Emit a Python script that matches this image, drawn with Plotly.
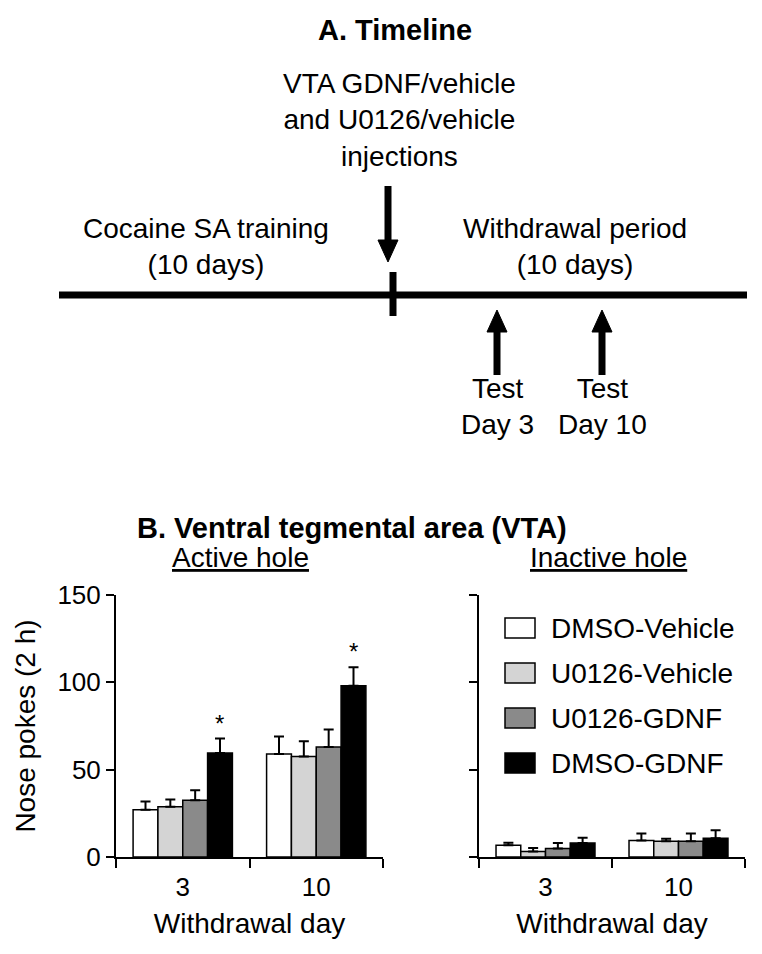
import plotly.graph_objects as go

# ---------------- data ----------------
days = ["3", "10"]
groups = ["DMSO-Vehicle", "U0126-Vehicle", "U0126-GDNF", "DMSO-GDNF"]
colors = ["#ffffff", "#d4d4d4", "#8a8a8a", "#000000"]

active_dmso_vehicle = [27.0, 59.0]
active_u0126_vehicle = [28.7, 57.5]
active_u0126_gdnf = [32.5, 63.0]
active_dmso_gdnf = [59.5, 98.0]
active_sem_dmso_vehicle = [4.8, 10.0]
active_sem_u0126_vehicle = [4.2, 8.8]
active_sem_u0126_gdnf = [5.7, 10.0]
active_sem_dmso_gdnf = [8.3, 10.7]

inactive_dmso_vehicle = [6.7, 9.5]
inactive_u0126_vehicle = [3.2, 9.0]
inactive_u0126_gdnf = [4.8, 9.0]
inactive_dmso_gdnf = [8.0, 10.8]
inactive_sem_dmso_vehicle = [1.4, 3.9]
inactive_sem_u0126_vehicle = [2.0, 1.5]
inactive_sem_u0126_gdnf = [3.2, 4.4]
inactive_sem_dmso_gdnf = [3.0, 4.5]

y_ticks = [0, 50, 100, 150]

active_means = [active_dmso_vehicle, active_u0126_vehicle, active_u0126_gdnf, active_dmso_gdnf]
active_sems = [active_sem_dmso_vehicle, active_sem_u0126_vehicle, active_sem_u0126_gdnf, active_sem_dmso_gdnf]
inactive_means = [inactive_dmso_vehicle, inactive_u0126_vehicle, inactive_u0126_gdnf, inactive_dmso_gdnf]
inactive_sems = [inactive_sem_dmso_vehicle, inactive_sem_u0126_vehicle, inactive_sem_u0126_gdnf, inactive_sem_dmso_gdnf]

# ---------------- layout helpers ----------------
W, H = 762, 954
OFF = 8  # page body margin in the browser
FONT = "Liberation Sans, Arial, Helvetica, sans-serif"


def fx(x):
    return (x - OFF) / W


def fy(y):
    return 1 - (y - OFF) / H


fig = go.Figure()

for i, g in enumerate(groups):
    for means, sems, xa, ya in [(active_means, active_sems, "x", "y"),
                                (inactive_means, inactive_sems, "x2", "y2")]:
        fig.add_trace(go.Bar(
            x=days, y=means[i], name=g, showlegend=False,
            xaxis=xa, yaxis=ya,
            marker=dict(color=colors[i], line=dict(color="black", width=1.5)),
            error_y=dict(type="data", array=sems[i], arrayminus=[0] * len(days),
                         symmetric=False, thickness=2, width=5, color="black"),
        ))

left_dom = [116, 383]
right_dom = [479, 745]
y_dom = [fy(857), fy(595)]
bargap = 0.256

axis_common = dict(
    type="category", categoryorder="array", categoryarray=days,
    range=[-0.5, len(days) - 0.5], autorange=False,
    tickson="boundaries", ticks="outside", ticklen=9, tickwidth=2,
    tickcolor="black", showline=True, linewidth=2, linecolor="black",
    showgrid=False, zeroline=False, tickfont=dict(size=26, color="black", family=FONT),
    ticklabelstandoff=6,
    title=dict(text="Withdrawal day", font=dict(size=28, color="black", family=FONT), standoff=12),
    fixedrange=True, automargin=False,
)
yaxis_common = dict(
    range=[0, 150], autorange=False, tickvals=y_ticks, ticks="outside", ticklen=8, tickwidth=2,
    tickcolor="black", showline=True, linewidth=2, linecolor="black",
    showgrid=False, zeroline=False, tickfont=dict(size=26, color="black", family=FONT),
    domain=y_dom, fixedrange=True, automargin=False,
)

fig.update_layout(
    width=W, height=H, margin=dict(l=0, r=0, t=0, b=0, autoexpand=False),
    paper_bgcolor="white", plot_bgcolor="white",
    barmode="group", bargap=bargap, bargroupgap=0,
    font=dict(family=FONT, color="black"),
    xaxis=dict(domain=[fx(left_dom[0]), fx(left_dom[1])], anchor="y", **axis_common),
    xaxis2=dict(domain=[fx(right_dom[0]), fx(right_dom[1])], anchor="y2", **axis_common),
    yaxis=dict(anchor="x", title=dict(text="Nose pokes (2 h)", font=dict(size=28, color="black", family=FONT), standoff=14),
               showticklabels=True, **yaxis_common),
    yaxis2=dict(anchor="x2", showticklabels=False, **yaxis_common),
)

annotations = []
shapes = []

# significance asterisks over DMSO-GDNF bars (active hole)
cat_px = (left_dom[1] - left_dom[0]) / len(days)
bar_px = cat_px * (1 - bargap) / len(groups)
star_shift = 1.5 * bar_px
for k, (m, s) in enumerate(zip(active_dmso_gdnf, active_sem_dmso_gdnf)):
    annotations.append(dict(x=k, y=m + s, xref="x", yref="y", text="*", showarrow=False,
                            xshift=star_shift, yanchor="bottom", yshift=0,
                            font=dict(size=24, color="black", family=FONT)))

# manual legend in the inactive panel
for i, g in enumerate(groups):
    yc = 628 + 45 * i
    shapes.append(dict(type="rect", xref="paper", yref="paper",
                       x0=fx(505), x1=fx(535), y0=fy(yc + 10), y1=fy(yc - 10),
                       fillcolor=colors[i], line=dict(color="black", width=1.5)))
    annotations.append(dict(x=fx(549), y=fy(yc), xref="paper", yref="paper", text=g,
                            showarrow=False, xanchor="left", yanchor="middle",
                            font=dict(size=28, color="black", family=FONT)))


def text(x, y, t, size=28, bold=False):
    annotations.append(dict(x=fx(x), y=fy(y), xref="paper", yref="paper",
                            text=("<b>%s</b>" % t) if bold else t, showarrow=False,
                            xanchor="center", yanchor="middle", align="center",
                            font=dict(size=size, color="black", family=FONT)))


# titles and panel headers
text(395, 30, "A. Timeline", 29, bold=True)
text(352, 528, "B. Ventral tegmental area (VTA)", 29, bold=True)
text(240, 557, "<u>Active hole</u>", 28)
text(608, 557, "<u>Inactive hole</u>", 28)

# timeline texts
text(399, 120, "VTA GDNF/vehicle<br>and U0126/vehicle<br>injections", 28)
text(206, 247, "Cocaine SA training<br>(10 days)", 28)
text(575, 247, "Withdrawal period<br>(10 days)", 28)
text(497, 406, "Test<br>Day 3", 28)
text(602, 406, "Test<br>Day 10", 28)


def line(x0, y0, x1, y1, w=7):
    shapes.append(dict(type="line", xref="paper", yref="paper",
                       x0=fx(x0), y0=fy(y0), x1=fx(x1), y1=fy(y1),
                       line=dict(color="black", width=w)))


def tri(tipx, tipy, basey, half=10):
    path = "M %f %f L %f %f L %f %f Z" % (fx(tipx), fy(tipy), fx(tipx - half), fy(basey),
                                          fx(tipx + half), fy(basey))
    shapes.append(dict(type="path", xref="paper", yref="paper", path=path,
                       fillcolor="black", line=dict(color="black", width=1)))


# timeline line and injection tick
line(59, 295, 747, 295)
line(393, 272, 393, 316)
# injection arrow (down)
line(388, 186, 388, 244)
tri(388, 262, 240)
# test arrows (up)
for ax in (497, 602):
    line(ax, 328, ax, 375)
    tri(ax, 310, 332)

fig.update_layout(annotations=annotations, shapes=shapes)
fig.write_html("out.html")
